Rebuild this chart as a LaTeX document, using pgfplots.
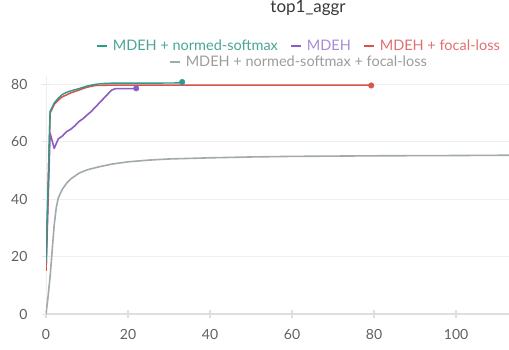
\documentclass[border=0pt]{standalone}
\usepackage{pgfplots}
\pgfplotsset{compat=1.18}
\usepackage{fontspec}
\setmainfont{Lato}
\definecolor{cteal}{HTML}{2E9A8A}
\definecolor{cpurple}{HTML}{8A5CC4}
\definecolor{cred}{HTML}{D9534F}
\definecolor{cgray}{HTML}{A2AAAA}
\definecolor{tteal}{HTML}{4AA597}
\definecolor{tpurple}{HTML}{A98AD6}
\definecolor{tred}{HTML}{E07070}
\definecolor{tgray}{HTML}{9C9C9C}
\begin{document}
\begin{tikzpicture}
\useasboundingbox (0,0) rectangle (509pt,349pt);
\pgfplotsset{
  base/.style={
    at={(46pt,35pt)}, anchor=south west, scale only axis,
    width=463pt, height=238pt,
    xmin=0, xmax=112.9, ymin=0, ymax=82.9,
  },
  myleg/.style={legend image code/.code={\draw[##1, line width=2pt] (0pt,0pt) -- (10pt,0pt);}},
}
\begin{axis}[base,
  axis x line=bottom, axis y line=left,
  axis line style={-},
  x axis line style={draw=black!13, line width=1.6pt},
  y axis line style={draw=black!7, line width=1pt},
  xtick={0,20,40,60,80,100}, ytick={0,20,40,60,80},
  tick align=center, major tick length=8pt,
  x tick style={draw=black!13, line width=1.4pt},
  y tick style={draw=black!10, line width=0.8pt},
  ymajorgrids, grid style={draw=black!6, line width=0.8pt},
  /pgf/number format/assume math mode=true,
  tick label style={font=\fontsize{14}{16}\selectfont, text=black!62},
  xticklabel style={yshift=-8pt},
  yticklabel style={xshift=-11pt},
  title={top1\_aggr},
  title style={at={(0.566,1.262)}, anchor=center, font=\fontsize{17}{19}\selectfont, text=black!78},
  legend columns=3,
  legend style={at={(0.546,1.126)}, anchor=center, draw=none, fill=none,
    font=\fontsize{14.5}{17}\selectfont,
    /tikz/every odd column/.append style={column sep=3pt},
    /tikz/every even column/.append style={column sep=10pt}},
  myleg,
]
\addlegendimage{cteal}
\addlegendentry{\textcolor{tteal}{MDEH + normed-softmax}}
\addlegendimage{cpurple}
\addlegendentry{\textcolor{tpurple}{MDEH}}
\addlegendimage{cred}
\addlegendentry{\textcolor{tred}{MDEH + focal-loss}}

% gray
\addplot[cgray, line width=1.6pt, line join=round, forget plot] coordinates {
(0,0) (0.5,6) (1,13) (1.5,22) (2,31) (2.5,37) (3,40.5) (4,43.5) (5,45.5) (6,47) (8,49) (10,50.2) (13,51.3) (16,52.2) (20,53) (25,53.6) (30,54) (40,54.4) (50,54.7) (60,54.9) (80,55.1) (100,55.2) (113,55.3)};
% purple
\addplot[cpurple, line width=1.6pt, line join=round, forget plot] coordinates {
(0,15) (1,63) (2,57.7) (3,61) (4,62) (5,63.5) (6,64.3) (7,65.5) (8,67) (9,68) (10,69.3) (11,70.5) (12,72) (13,73.5) (14,75) (15,76.5) (16,78) (17,78.5) (22,78.5)};
\addplot[cpurple, only marks, mark=*, mark size=2.8pt, forget plot] coordinates {(22,78.6)};
% red
\addplot[cred, line width=1.6pt, line join=round, forget plot] coordinates {
(0,15) (1,70) (2,73) (3,74.5) (4,75.7) (5,76.3) (6,77) (8,78) (10,79) (12,79.6) (15,79.7) (79,79.7)};
\addplot[cred, only marks, mark=*, mark size=2.8pt, forget plot] coordinates {(79.3,79.6)};
% teal
\addplot[cteal, line width=1.4pt, line join=round, forget plot] coordinates {
(0,18) (1,70.5) (2,73.5) (3,75.2) (4,76.5) (5,77.2) (6,77.7) (8,78.5) (10,79.4) (12,80) (14,80.3) (16,80.4) (20,80.4) (25,80.4) (33,80.5)};
\addplot[cteal, only marks, mark=*, mark size=2.8pt, forget plot] coordinates {(33.2,80.8)};
\end{axis}
\begin{axis}[base, hide axis,
  legend style={at={(0.546,1.059)}, anchor=center, draw=none, fill=none,
    font=\fontsize{14.5}{17}\selectfont,
    /tikz/every odd column/.append style={column sep=3pt}},
  myleg,
]
\addlegendimage{cgray}
\addlegendentry{\textcolor{tgray}{MDEH + normed-softmax + focal-loss}}
\end{axis}
\end{tikzpicture}
\end{document}
